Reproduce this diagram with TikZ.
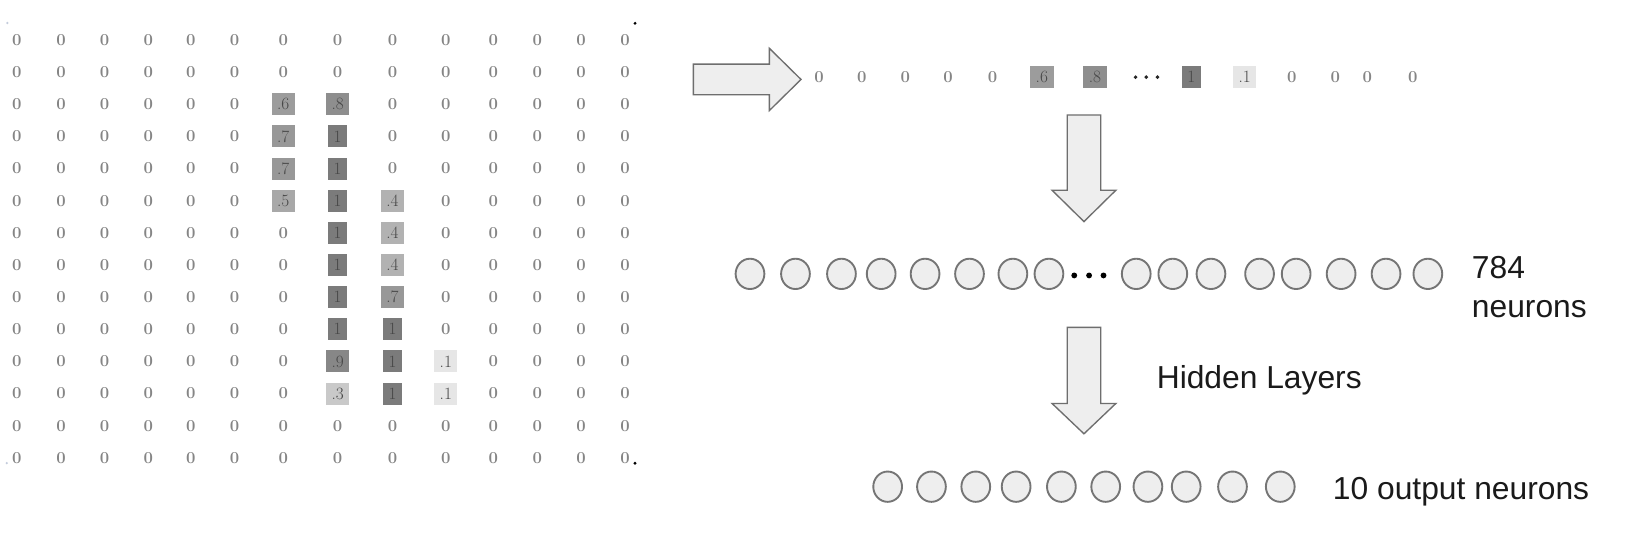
\documentclass[tikz,border=0pt]{standalone}
\usepackage{fontspec}
\newfontfamily\labelfont{Liberation Sans}
\usetikzlibrary{shapes.geometric}
\definecolor{zgray}{HTML}{858585}
\definecolor{vtext}{HTML}{474747}
\definecolor{g10}{HTML}{7B7B7B}
\definecolor{g9}{HTML}{878787}
\definecolor{g8}{HTML}{8E8E8E}
\definecolor{g7}{HTML}{989898}
\definecolor{g6}{HTML}{9C9C9C}
\definecolor{g5}{HTML}{A8A8A8}
\definecolor{g4}{HTML}{B2B2B2}
\definecolor{g3}{HTML}{C9C9C9}
\definecolor{g1}{HTML}{E6E6E6}
\definecolor{afill}{HTML}{EEEEEE}
\definecolor{astroke}{HTML}{6E6E6E}
\definecolor{nstroke}{HTML}{757575}
\definecolor{ltxt}{HTML}{1A1A1A}
\definecolor{fmark}{HTML}{C4CCDC}
\tikzset{
  zero/.style={text=zgray, font=\bfseries\fontsize{16}{16}\selectfont, inner sep=0pt},
  valbox/.style={text=vtext, font=\fontsize{16.5}{16.5}\selectfont, inner xsep=5.3pt, inner ysep=5.2pt, text height=10.6pt, text depth=0pt},
  neuron/.style={ellipse, draw=nstroke, fill=afill, line width=1.8pt, minimum width=27.5pt, minimum height=29pt, inner sep=0pt},
  blockarrow/.style={fill=afill, draw=astroke, line width=1.3pt, line join=miter},
  lbl/.style={text=ltxt, font=\labelfont\fontsize{30.4}{30.4}\selectfont, inner sep=0pt, anchor=base west},
  bigdot/.style={circle, fill=black, inner sep=0pt, minimum size=5.6pt},
  smalldot/.style={circle, fill=black!85, inner sep=0pt, minimum size=3.8pt},
  cornerdot/.style={circle, fill=black, inner sep=0pt, minimum size=3pt},
  faintdot/.style={circle, fill=fmark, inner sep=0pt, minimum size=2.4pt}
}
\begin{document}
\begin{tikzpicture}[x=1pt,y=-1pt]
\useasboundingbox[fill=white] (0,0) rectangle (1568,519.5);
% ---------- grid of pixel values ----------
\foreach \r/\cl in {0/{0,1,2,3,4,5,6,7,8,9,10,11,12,13},
                    1/{0,1,2,3,4,5,6,7,8,9,10,11,12,13},
                    2/{0,1,2,3,4,5,8,9,10,11,12,13},
                    3/{0,1,2,3,4,5,8,9,10,11,12,13},
                    4/{0,1,2,3,4,5,8,9,10,11,12,13},
                    5/{0,1,2,3,4,5,9,10,11,12,13},
                    6/{0,1,2,3,4,5,6,9,10,11,12,13},
                    7/{0,1,2,3,4,5,6,9,10,11,12,13},
                    8/{0,1,2,3,4,5,6,9,10,11,12,13},
                    9/{0,1,2,3,4,5,6,9,10,11,12,13},
                    10/{0,1,2,3,4,5,6,10,11,12,13},
                    11/{0,1,2,3,4,5,6,10,11,12,13},
                    12/{0,1,2,3,4,5,6,7,8,9,10,11,12,13},
                    13/{0,1,2,3,4,5,6,7,8,9,10,11,12,13}}{
  \foreach \c in \cl {
    \pgfmathsetmacro\xx{{16,58.5,100,142,182.5,224.5,271,323,375.5,426.5,472,514,556,598}[\c]}
    \pgfmathsetmacro\yy{38.3+30.75*\r}
    \node[zero] (c-\r-\c) at (\xx,\yy) {0};
  }
}
\foreach \r/\c/\t/\f in {2/6/.6/g6, 2/7/.8/g8,
                         3/6/.7/g7, 3/7/1/g10,
                         4/6/.7/g7, 4/7/1/g10,
                         5/6/.5/g5, 5/7/1/g10, 5/8/.4/g4,
                         6/7/1/g10, 6/8/.4/g4,
                         7/7/1/g10, 7/8/.4/g4,
                         8/7/1/g10, 8/8/.7/g7,
                         9/7/1/g10, 9/8/1/g10,
                         10/7/.9/g9, 10/8/1/g10, 10/9/.1/g1,
                         11/7/.3/g3, 11/8/1/g10, 11/9/.1/g1}{
  \pgfmathsetmacro\xx{{16,58.5,100,142,182.5,224.5,271,323,375.5,426.5,472,514,556,598}[\c]}
  \pgfmathsetmacro\yy{38.3+30.75*\r}
  \node[valbox, fill=\f] (c-\r-\c) at (\xx,\yy) {\t};
}
\node[cornerdot] (m1) at (607.5,22.3) {};
\node[cornerdot] (m2) at (607.5,443.2) {};
\node[faintdot] (m3) at (7,22) {};
\node[faintdot] (m4) at (6.5,443) {};
% ---------- right block arrow ----------
\draw[blockarrow] (663.3,61.3) -- (736,61.3) -- (736,46.2) -- (766.3,76) -- (736,105.8) -- (736,90.7) -- (663.3,90.7) -- cycle;
% ---------- flattened vector ----------
\foreach \x [count=\i] in {783.6,824.5,866.2,906.9,949.6}
  \node[zero] (va\i) at (\x,73.3) {0};
\node[valbox, fill=g6] (vb1) at (996.7,73.3) {.6};
\node[valbox, fill=g8] (vb2) at (1047.5,73.3) {.8};
\foreach \x [count=\i] in {1086.4,1096.6,1107.3}
  \node[smalldot] (vd\i) at (\x,73.8) {};
\node[valbox, fill=g10] (vb3) at (1139.8,73.3) {1};
\node[valbox, fill=g1] (vb4) at (1190.8,73.3) {.1};
\foreach \x [count=\i] in {1235.8,1277.5,1308,1351.7}
  \node[zero] (vc\i) at (\x,73.3) {0};
% ---------- down arrows ----------
\draw[blockarrow] (1021,110) -- (1053,110) -- (1053,182) -- (1067.5,182) -- (1037,212) -- (1006.5,182) -- (1021,182) -- cycle;
\draw[blockarrow] (1021,313.2) -- (1053,313.2) -- (1053,386) -- (1067.5,386) -- (1037,415) -- (1006.5,386) -- (1021,386) -- cycle;
% ---------- input neurons ----------
\foreach \x [count=\i] in {717.5,761,805,843,885,927.5,969,1003.5,1087,1122,1158.5,1205,1240,1283,1326,1366}
  \node[neuron] (n\i) at (\x,262) {};
\foreach \x [count=\i] in {1027.7,1041.9,1055.7}
  \node[bigdot] (nd\i) at (\x,263.5) {};
\node[lbl] (l784) at (1408,266.5) {784};
\node[lbl] (lneu) at (1408,304) {neurons};
\node[lbl] (lhid) at (1106.5,371.5) {Hidden Layers};
% ---------- output neurons ----------
\foreach \x [count=\i] in {849.2,891.1,933.5,972.1,1015.4,1057.8,1098.2,1134.8,1179.1,1224.8}
  \node[neuron] (o\i) at (\x,465.6) {};
\node[lbl] (lout) at (1275,478.3) {10 output neurons};
\end{tikzpicture}
\end{document}
